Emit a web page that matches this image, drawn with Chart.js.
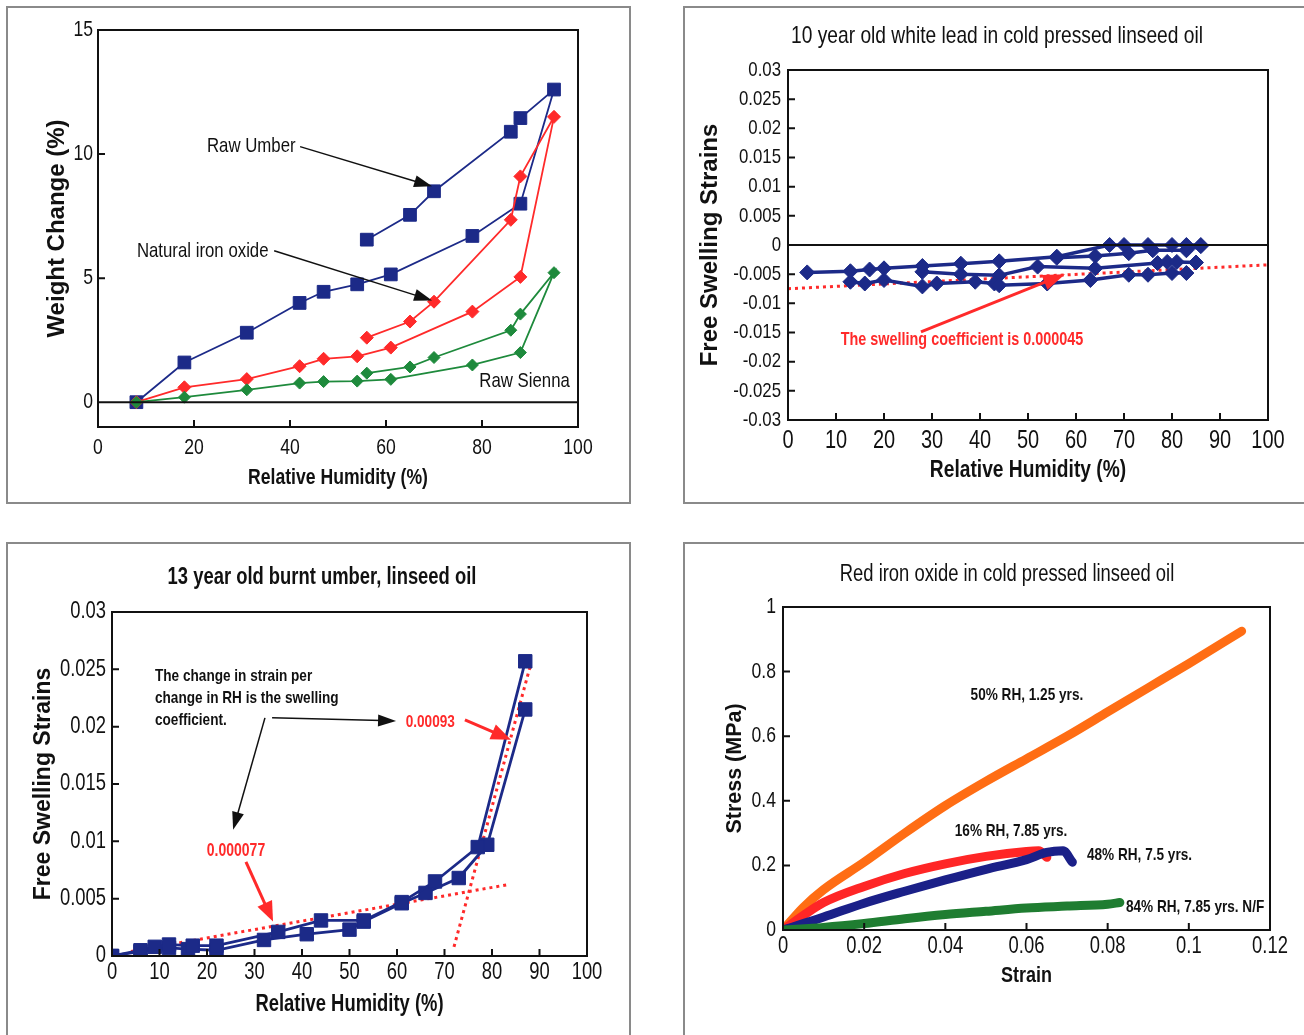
<!DOCTYPE html>
<html>
<head>
<meta charset="utf-8">
<script src="https://cdn.jsdelivr.net/npm/chart.js@4.4.1/dist/chart.umd.min.js"></script>
<style>
  body { margin: 0; background: #fff; width: 1304px; height: 1035px; overflow: hidden; position: relative; }
  .frame { position: absolute; border: 2px solid #8a8a8a; box-sizing: border-box; }
  .box { position: absolute; }
</style>
</head>
<body>
<div class="frame" style="left:6px;top:6px;width:625px;height:498px"></div>
<div class="frame" style="left:683px;top:6px;width:640px;height:498px"></div>
<div class="frame" style="left:6px;top:542px;width:625px;height:520px"></div>
<div class="frame" style="left:683px;top:542px;width:640px;height:520px"></div>

<div class="box" style="left:8px;top:8px;width:620px;height:494px"><canvas id="c1"></canvas></div>
<div class="box" style="left:684px;top:8px;width:620px;height:494px"><canvas id="c2"></canvas></div>
<div class="box" style="left:8px;top:544px;width:620px;height:491px"><canvas id="c3"></canvas></div>
<div class="box" style="left:684px;top:544px;width:620px;height:491px"><canvas id="c4"></canvas></div>

<script>
const FONT = "'Liberation Sans', Arial, sans-serif";
const NARROW = 0.8; // horizontal text is squeezed like the scanned original
Chart.defaults.font.family = FONT;
Chart.defaults.color = "#111";

const NAVY = "#1c2a88";
const RED = "#ff2a2a";
const GREEN = "#1e8a3c";

// panel 1: weight change vs RH (up then back down)
const p1RH = [8, 18, 31, 42, 47, 54, 61, 78, 88, 95, 88, 86, 70, 65, 56];
const p1Umber = [0, 1.6, 2.8, 4.0, 4.45, 4.75, 5.15, 6.7, 8.0, 12.6, 11.45, 10.9, 8.5, 7.55, 6.55];
const p1IronOxide = [0, 0.6, 0.93, 1.45, 1.75, 1.85, 2.2, 3.65, 5.05, 11.5, 9.1, 7.35, 4.05, 3.25, 2.6];
const p1Sienna = [0, 0.2, 0.5, 0.77, 0.83, 0.85, 0.92, 1.5, 2.0, 5.22, 3.55, 2.9, 1.8, 1.42, 1.17];
const p1XTicks = [0, 20, 40, 60, 80, 100];
const p1YTicks = [0, 5, 10, 15];

// panel 2: white lead, several RH cycles
const p2RunA_RH = [4, 13, 17, 20, 28, 36, 44, 56, 67, 70, 75, 80, 83, 86];
const p2RunA = [-0.0047, -0.0045, -0.0042, -0.004, -0.0036, -0.0032, -0.0028, -0.002, 0, 0, 0, 0, 0, 0];
const p2RunB_RH = [13, 16, 20, 28, 31, 39, 43, 44, 54, 63, 71, 75, 80, 83];
const p2RunB = [-0.0063, -0.0066, -0.006, -0.0071, -0.0066, -0.0063, -0.0066, -0.0069, -0.0066, -0.006, -0.0051, -0.0051, -0.0048, -0.0048];
const p2RunC_RH = [28, 36, 44, 52, 64, 77, 79, 81, 85];
const p2RunC = [-0.0046, -0.005, -0.0052, -0.0037, -0.004, -0.0031, -0.0029, -0.0029, -0.003];
const p2RunD_RH = [56, 64, 71, 76, 83, 86];
const p2RunD = [-0.0022, -0.0019, -0.0014, -0.0009, -0.0009, -0.0002];
const p2FitRH = [0, 100];
const p2Fit = [-0.0075, -0.0034];
const p2XTicks = [0, 10, 20, 30, 40, 50, 60, 70, 80, 90, 100];
const p2YTicks = [-0.03, -0.025, -0.02, -0.015, -0.01, -0.005, 0, 0.005, 0.01, 0.015, 0.02, 0.025, 0.03];

// panel 3: burnt umber
const p3RunA_RH = [0, 6, 9, 12, 17, 22, 35, 44, 53, 61, 68, 77, 87];
const p3RunA = [0, 0.0005, 0.0008, 0.001, 0.0009, 0.0009, 0.0021, 0.0031, 0.0031, 0.0047, 0.0065, 0.0095, 0.0257];
const p3RunB_RH = [0, 6, 12, 16, 22, 32, 41, 50, 53, 61, 66, 73, 79, 87];
const p3RunB = [0, 0.0004, 0.0007, 0.0006, 0.0005, 0.0014, 0.0019, 0.0023, 0.003, 0.0046, 0.0055, 0.0068, 0.0097, 0.0215];
const p3LowFitRH = [4, 83];
const p3LowFit = [0.0004, 0.0062];
const p3HighFitRH = [72, 88];
const p3HighFit = [0.0008, 0.0252];
const p3XTicks = [0, 10, 20, 30, 40, 50, 60, 70, 80, 90, 100];
const p3YTicks = [0, 0.005, 0.01, 0.015, 0.02, 0.025, 0.03];

// panel 4: stress-strain, red iron oxide
const p4OrangeStrain = [0, 0.005, 0.01, 0.02, 0.03, 0.04, 0.05, 0.06, 0.07, 0.08, 0.09, 0.1, 0.113];
const p4Orange = [0, 0.07, 0.125, 0.21, 0.3, 0.385, 0.46, 0.53, 0.6, 0.675, 0.75, 0.825, 0.925];
const p4RedStrain = [0, 0.005, 0.01, 0.02, 0.03, 0.04, 0.05, 0.06, 0.063, 0.065];
const p4Red = [0, 0.045, 0.085, 0.135, 0.175, 0.205, 0.228, 0.243, 0.245, 0.225];
const p4BlueStrain = [0, 0.01, 0.02, 0.03, 0.04, 0.05, 0.06, 0.065, 0.069, 0.0713];
const p4Blue = [0, 0.04, 0.083, 0.12, 0.155, 0.188, 0.218, 0.24, 0.245, 0.21];
const p4GreenStrain = [0, 0.01, 0.02, 0.03, 0.04, 0.05, 0.06, 0.07, 0.08, 0.083];
const p4Green = [0, 0.008, 0.02, 0.035, 0.048, 0.058, 0.068, 0.074, 0.08, 0.085];
const p4XTicks = [0, 0.02, 0.04, 0.06, 0.08, 0.1, 0.12];
const p4YTicks = [0, 0.2, 0.4, 0.6, 0.8, 1];

const pts = (xs, ys) => xs.map((x, i) => ({ x: x, y: ys[i] }));

function axis(min, max, tickVals, title, opt) {
    return {
        type: "linear",
        min: min,
        max: max,
        afterBuildTicks: s => { s.ticks = tickVals.map(v => ({ value: v })); },
        afterFit: s => { if (opt.vertical) s.width = opt.size; else s.height = opt.size; },
        grid: { display: false, drawTicks: false },
        border: { display: false },
        ticks: {
            padding: opt.pad,
            autoSkip: false,
            maxRotation: 0,
            color: "#111",
            font: { size: opt.font, lineHeight: 1.2 },
            callback: v => String(v)
        },
        title: {
            display: true,
            text: title,
            color: "#111",
            font: { size: opt.titleSize, weight: "bold", lineHeight: 1.2 },
            padding: { top: opt.titlePad, bottom: opt.titlePad }
        }
    };
}

// box round the plot, inward ticks, optional zero line
function boxPlugin(xMarks, yMarks, zeroLine) {
    return {
        id: "box",
        afterDatasetsDraw(chart) {
            const { ctx, chartArea: a, scales: { x, y } } = chart;
            ctx.save();
            ctx.strokeStyle = "#111";
            ctx.lineWidth = 2;
            if (zeroLine) {
                const py = y.getPixelForValue(0);
                ctx.beginPath();
                ctx.moveTo(a.left, py);
                ctx.lineTo(a.right, py);
                ctx.stroke();
            }
            ctx.strokeRect(a.left, a.top, a.right - a.left, a.bottom - a.top);
            ctx.beginPath();
            xMarks.forEach(v => {
                const px = x.getPixelForValue(v);
                ctx.moveTo(px, a.bottom);
                ctx.lineTo(px, a.bottom - 7);
            });
            yMarks.forEach(v => {
                const py = y.getPixelForValue(v);
                ctx.moveTo(a.left, py);
                ctx.lineTo(a.left + 7, py);
            });
            ctx.stroke();
            ctx.restore();
        }
    };
}

// texts and arrows placed in data units; titles in canvas units
function notesPlugin(items) {
    return {
        id: "notes",
        afterDraw(chart) {
            const { ctx, scales: { x, y } } = chart;
            ctx.save();
            items.forEach(it => {
                if (it.kind === "arrow") {
                    const x1 = x.getPixelForValue(it.from[0]), y1 = y.getPixelForValue(it.from[1]);
                    const x2 = x.getPixelForValue(it.to[0]), y2 = y.getPixelForValue(it.to[1]);
                    const ang = Math.atan2(y2 - y1, x2 - x1);
                    const L = it.head[0], W = it.head[1];
                    ctx.strokeStyle = it.color;
                    ctx.fillStyle = it.color;
                    ctx.lineWidth = it.width;
                    ctx.beginPath();
                    ctx.moveTo(x1, y1);
                    ctx.lineTo(x2 - Math.cos(ang) * L * 0.8, y2 - Math.sin(ang) * L * 0.8);
                    ctx.stroke();
                    ctx.beginPath();
                    ctx.moveTo(x2, y2);
                    ctx.lineTo(x2 - Math.cos(ang) * L - Math.sin(ang) * W, y2 - Math.sin(ang) * L + Math.cos(ang) * W);
                    ctx.lineTo(x2 - Math.cos(ang) * L + Math.sin(ang) * W, y2 - Math.sin(ang) * L - Math.cos(ang) * W);
                    ctx.closePath();
                    ctx.fill();
                } else {
                    const px = it.canvas ? it.at[0] : x.getPixelForValue(it.at[0]);
                    const py = it.canvas ? it.at[1] : y.getPixelForValue(it.at[1]);
                    ctx.font = (it.bold ? "bold " : "") + it.size + "px " + FONT;
                    ctx.fillStyle = it.color || "#111";
                    ctx.textAlign = it.align || "center";
                    ctx.textBaseline = "middle";
                    ctx.fillText(it.text, px, py);
                }
            });
            ctx.restore();
        }
    };
}

// squeeze upright text around its anchor; rotated text is left as is
function narrowText(canvas) {
    const ctx = canvas.getContext("2d");
    const fill = ctx.fillText.bind(ctx);
    ctx.fillText = function (t, x, y, w) {
        const m = this.getTransform();
        if (Math.abs(m.b) > 1e-6 || Math.abs(m.c) > 1e-6) {
            return w === undefined ? fill(t, x, y) : fill(t, x, y, w);
        }
        this.save();
        this.translate(x, y);
        this.scale(NARROW, 1);
        fill(t, 0, 0);
        this.restore();
    };
}

function build(id, datasets, xScale, yScale, padding, plugins) {
    const canvas = document.getElementById(id);
    narrowText(canvas);
    new Chart(canvas, {
        type: "line",
        data: { datasets: datasets },
        options: {
            responsive: true,
            maintainAspectRatio: false,
            animation: false,
            events: [],
            layout: { padding: padding },
            plugins: { legend: { display: false }, tooltip: { enabled: false } },
            scales: { x: xScale, y: yScale }
        },
        plugins: plugins
    });
}

function series(data, color, style, radius, width) {
    return {
        data: data,
        borderColor: color,
        backgroundColor: color,
        pointStyle: style,
        pointRadius: radius,
        pointBorderWidth: 1,
        borderWidth: width,
        tension: 0
    };
}

const dotted = (d) => ({ data: d, borderColor: RED, borderWidth: 3, borderDash: [3, 4], pointRadius: 0 });

// ---------- panel 1 ----------
build("c1",
    [
        series(pts(p1RH, p1Sienna), GREEN, "rectRot", 6, 1.8),
        series(pts(p1RH, p1IronOxide), RED, "rectRot", 6.5, 1.8),
        series(pts(p1RH, p1Umber), NAVY, "rect", 9, 1.8)
    ],
    axis(0, 100, p1XTicks, "Relative Humidity (%)", { size: 75, pad: 8, font: 22, titleSize: 22, titlePad: 11 }),
    axis(-1, 15, p1YTicks, "Weight Change (%)", { vertical: true, size: 90, pad: 5, font: 22, titleSize: 24, titlePad: 35 }),
    { left: 0, top: 22, right: 50, bottom: 0 },
    [boxPlugin([20, 40, 60, 80], [5, 10], true), notesPlugin([
        { kind: "text", at: [22.7, 10.3], text: "Raw Umber", size: 21, align: "left" },
        { kind: "arrow", from: [42.1, 10.3], to: [69.6, 8.7], color: "#111", width: 1.5, head: [18, 6] },
        { kind: "text", at: [8.1, 6.1], text: "Natural iron oxide", size: 21, align: "left" },
        { kind: "arrow", from: [36.7, 6.1], to: [69.6, 4.1], color: "#111", width: 1.5, head: [18, 6] },
        { kind: "text", at: [98.3, 0.85], text: "Raw Sienna", size: 21, align: "right" }
    ])]
);

// ---------- panel 2 ----------
const navyRun2 = d => series(d, NAVY, "rectRot", 7.5, 3.5);
build("c2",
    [
        navyRun2(pts(p2RunA_RH, p2RunA)),
        navyRun2(pts(p2RunB_RH, p2RunB)),
        navyRun2(pts(p2RunC_RH, p2RunC)),
        navyRun2(pts(p2RunD_RH, p2RunD)),
        dotted(pts(p2FitRH, p2Fit))
    ],
    axis(0, 100, p2XTicks, "Relative Humidity (%)", { size: 82, pad: 6, font: 25, titleSize: 24, titlePad: 17 }),
    axis(-0.03, 0.03, p2YTicks, "Free Swelling Strains", { vertical: true, size: 104, pad: 7, font: 21, titleSize: 24, titlePad: 12 }),
    { left: 0, top: 62, right: 36, bottom: 0 },
    [boxPlugin(p2XTicks.slice(1, -1), p2YTicks.slice(1, -1), true), notesPlugin([
        { kind: "text", canvas: true, at: [313, 28], text: "10 year old white lead in cold pressed linseed oil", size: 24 },
        { kind: "arrow", from: [27.7, -0.0149], to: [57.7, -0.005], color: RED, width: 3, head: [22, 8] },
        { kind: "text", at: [36.25, -0.0163], text: "The swelling coefficient is 0.000045", size: 18, bold: true, color: RED }
    ])]
);

// ---------- panel 3 ----------
build("c3",
    [
        series(pts(p3RunA_RH, p3RunA), NAVY, "rect", 9.5, 2.8),
        series(pts(p3RunB_RH, p3RunB), NAVY, "rect", 9.5, 2.8),
        dotted(pts(p3LowFitRH, p3LowFit)),
        dotted(pts(p3HighFitRH, p3HighFit))
    ],
    axis(0, 100, p3XTicks, "Relative Humidity (%)", { size: 79, pad: 3, font: 23, titleSize: 23, titlePad: 17 }),
    axis(0, 0.03, p3YTicks, "Free Swelling Strains", { vertical: true, size: 104, pad: 6, font: 23, titleSize: 23, titlePad: 22 }),
    { left: 0, top: 68, right: 41, bottom: 0 },
    [boxPlugin(p3XTicks.slice(1, -1), p3YTicks.slice(1, -1), false), notesPlugin([
        { kind: "text", canvas: true, at: [314, 34], text: "13 year old burnt umber, linseed oil", size: 23, bold: true },
        { kind: "text", at: [9.05, 0.02443], text: "The change in strain per", size: 17, bold: true, align: "left" },
        { kind: "text", at: [9.05, 0.02251], text: "change in RH is the swelling", size: 17, bold: true, align: "left" },
        { kind: "text", at: [9.05, 0.02059], text: "coefficient.", size: 17, bold: true, align: "left" },
        { kind: "arrow", from: [32.2, 0.02077], to: [25.5, 0.011], color: "#111", width: 1.5, head: [18, 6] },
        { kind: "arrow", from: [33.7, 0.02077], to: [59.8, 0.0205], color: "#111", width: 1.5, head: [18, 6] },
        { kind: "text", at: [67, 0.0204], text: "0.00093", size: 17, bold: true, color: RED },
        { kind: "arrow", from: [74.3, 0.0206], to: [84, 0.01885], color: RED, width: 3, head: [20, 8] },
        { kind: "text", at: [26.1, 0.00916], text: "0.000077", size: 17.5, bold: true, color: RED },
        { kind: "arrow", from: [28.2, 0.0082], to: [33.9, 0.003], color: RED, width: 3, head: [20, 8] }
    ])]
);

// ---------- panel 4 ----------
const thick = (d, color) => ({ data: d, borderColor: color, borderWidth: 9, pointRadius: 0, cubicInterpolationMode: "monotone", borderCapStyle: "round", borderJoinStyle: "round" });
build("c4",
    [
        thick(pts(p4GreenStrain, p4Green), "#1f7d31"),
        thick(pts(p4BlueStrain, p4Blue), "#1b2088"),
        thick(pts(p4RedStrain, p4Red), "#ff2626"),
        thick(pts(p4OrangeStrain, p4Orange), "#ff6d14")
    ],
    axis(0, 0.12, p4XTicks, "Strain", { size: 105, pad: 3, font: 23, titleSize: 22.5, titlePad: 46 }),
    axis(0, 1, p4YTicks, "Stress (MPa)", { vertical: true, size: 99, pad: 7, font: 22, titleSize: 21.5, titlePad: 38 }),
    { left: 0, top: 63, right: 34, bottom: 0 },
    [boxPlugin(p4XTicks.slice(1, -1), p4YTicks.slice(1, -1), false), notesPlugin([
        { kind: "text", canvas: true, at: [323, 31], text: "Red iron oxide in cold pressed linseed oil", size: 23 },
        { kind: "text", at: [0.0601, 0.7276], text: "50% RH, 1.25 yrs.", size: 17, bold: true },
        { kind: "text", at: [0.0562, 0.3065], text: "16% RH, 7.85 yrs.", size: 17, bold: true },
        { kind: "text", at: [0.0749, 0.232], text: "48% RH, 7.5 yrs.", size: 17, bold: true, align: "left" },
        { kind: "text", at: [0.0845, 0.0712], text: "84% RH, 7.85 yrs. N/F", size: 17, bold: true, align: "left" }
    ])]
);
</script>
</body>
</html>
